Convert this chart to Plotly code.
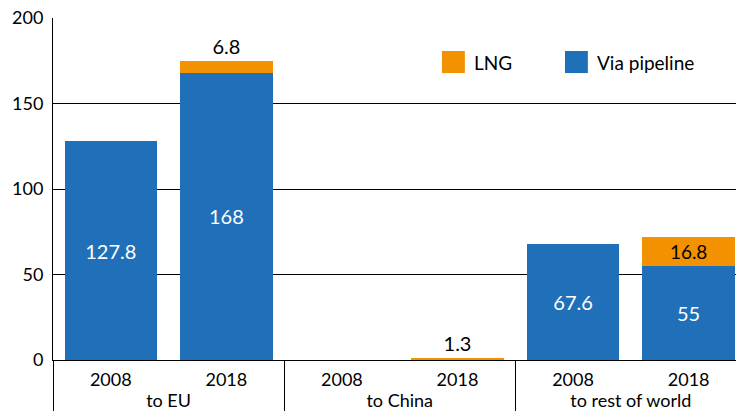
import plotly.graph_objects as go

groups = ["to EU", "to EU", "to China", "to China", "to rest of world", "to rest of world"]
years = ["2008", "2018", "2008", "2018", "2008", "2018"]
pipeline = [127.8, 168, 0, 0, 67.6, 55]
lng = [0, 6.8, 0, 1.3, 0, 16.8]
pipe_text = ["127.8", "168", "", "", "67.6", "55"]
lng_text = ["", "6.8", "", "1.3", "", "16.8"]
lng_pos = ["none", "outside", "none", "outside", "none", "inside"]

BLUE = "#1F70B8"
ORANGE = "#F39200"
FONT = "Lato"

fig = go.Figure()
fig.add_trace(go.Bar(
    x=[groups, years], y=pipeline, name="Via pipeline", marker_color=BLUE,
    marker_line_width=0, text=pipe_text, textposition="inside",
    insidetextanchor="middle", textfont=dict(color="white", size=20, family=FONT),
    showlegend=False, cliponaxis=False,
))
fig.add_trace(go.Bar(
    x=[groups, years], y=lng, name="LNG", marker_color=ORANGE,
    marker_line_width=0, text=lng_text, textposition=lng_pos,
    insidetextanchor="middle", textfont=dict(color="black", size=20, family=FONT),
    showlegend=False, cliponaxis=False,
))

# custom legend (large square swatches)
legend_items = [("LNG", ORANGE, 0.5695), ("Via pipeline", BLUE, 0.7496)]
for label, color, xp in legend_items:
    fig.add_shape(type="rect", xref="paper", yref="paper",
                  x0=xp, x1=xp + 0.0335, y0=0.839, y1=0.9035,
                  fillcolor=color, line_width=0)
    fig.add_annotation(xref="paper", yref="paper", x=xp + 0.044, y=0.871,
                       text=label, showarrow=False, xanchor="left", yanchor="middle",
                       font=dict(size=19, family=FONT, color="black"))

fig.update_layout(
    width=736, height=416,
    margin=dict(l=53, r=0, t=18, b=56, autoexpand=False),
    barmode="stack", bargap=0.2,
    plot_bgcolor="white", paper_bgcolor="white",
    font=dict(family=FONT, size=18, color="black"),
    uniformtext=dict(mode=False),
)
fig.update_yaxes(
    range=[0, 200], tickvals=[0, 50, 100, 150, 200],
    showgrid=True, gridcolor="black", gridwidth=1,
    showline=True, linecolor="black", linewidth=1,
    zeroline=False, ticks="", ticklabelstandoff=5, automargin=False,
    tickfont=dict(size=18, family=FONT),
)
fig.update_xaxes(
    type="multicategory", range=[-0.5, 5.41], automargin=False,
    showline=True, linecolor="black", linewidth=1,
    showdividers=True, dividercolor="black", dividerwidth=1,
    ticks="", ticklabelstandoff=3, tickfont=dict(size=18, family=FONT),
)

fig.write_html("out.html", config={"displayModeBar": False},
               post_script="document.body.style.margin='0';document.body.style.overflow='hidden';")
